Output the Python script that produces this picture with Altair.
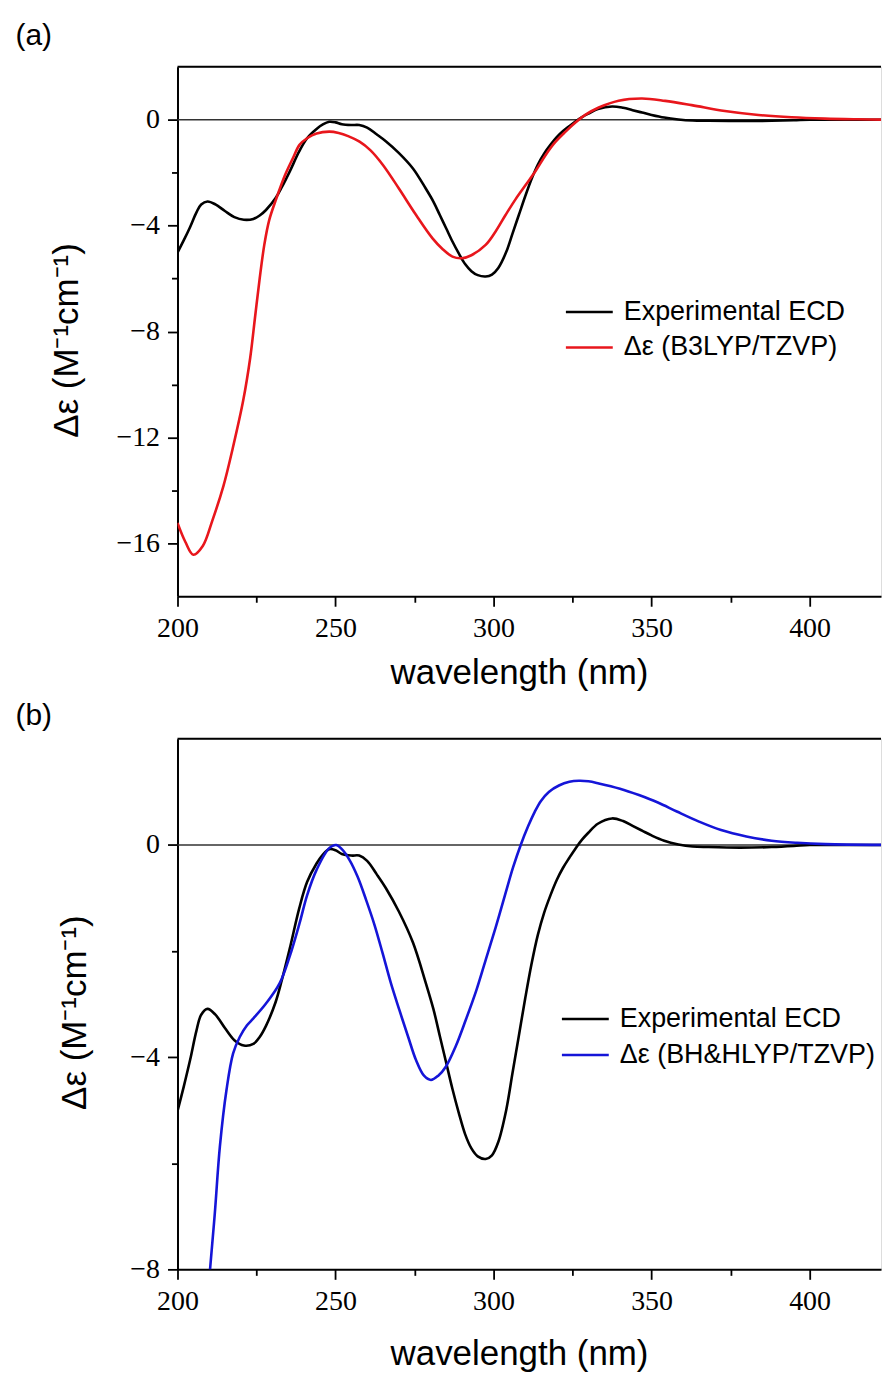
import altair as alt
import pandas as pd

# ---------------- data ----------------
wl_exp = [200, 202, 204, 206, 207.5, 209.5, 212, 215, 218, 221, 224, 226, 228, 231, 233, 235.5,
          238.5, 241, 244, 246, 248, 250, 252, 255, 257.5, 260, 263, 266, 270, 274.5, 278.5,
          281, 283, 285, 287, 289, 291, 293, 295, 297.5, 299.5, 301.5, 304, 306, 308, 310,
          312, 314, 316, 318, 320, 322, 324, 326, 328, 330, 333, 337.5, 341, 344, 347, 350,
          354, 358.5, 363, 368, 378, 388, 395, 400, 410, 425]
de_exp = [-5.02, -4.55, -4.05, -3.5, -3.2, -3.09, -3.2, -3.45, -3.68, -3.78, -3.75, -3.62, -3.41, -2.97, -2.55, -1.96,
          -1.2, -0.7, -0.35, -0.18, -0.08, -0.1, -0.17, -0.2, -0.2, -0.3, -0.55, -0.82, -1.25, -1.84, -2.59,
          -3.1, -3.6, -4.1, -4.6, -5.05, -5.45, -5.72, -5.87, -5.92, -5.85, -5.6, -5.0, -4.3, -3.6, -2.9,
          -2.25, -1.7, -1.28, -0.95, -0.66, -0.43, -0.24, -0.06, 0.1, 0.23, 0.4, 0.5, 0.45, 0.36, 0.27, 0.18,
          0.08, 0.01, -0.03, -0.04, -0.05, -0.04, -0.02, 0.0, 0.0, 0.0]

wl_b3 = [200, 202.5, 205, 208, 211, 214.5, 217.5, 220.8, 223, 224.5, 226, 227.5, 229, 231.3, 234,
         236.5, 238.6, 241, 244, 248, 251, 254, 257.6, 261, 265, 270, 275.5, 280.7, 284, 287,
         290, 293, 297.5, 300.5, 303.8, 307, 310.2, 313.5, 316.5, 319.5, 322.8, 326, 329, 333.3, 339.6,
         347, 354.3, 362.7, 373.2, 383.8, 394.3, 404.8, 415, 425]
de_b3 = [-15.23, -15.95, -16.43, -16.1, -15.15, -13.85, -12.4, -10.6, -9.0, -7.5, -6.0, -4.7, -3.8, -2.97, -2.1,
         -1.46, -0.95, -0.7, -0.52, -0.45, -0.5, -0.62, -0.83, -1.15, -1.71, -2.59, -3.6, -4.48, -4.9, -5.17,
         -5.23, -5.12, -4.73, -4.25, -3.6, -3.0, -2.46, -1.9, -1.33, -0.85, -0.45, -0.1, 0.18, 0.46, 0.72,
         0.8, 0.71, 0.55, 0.33, 0.18, 0.09, 0.04, 0.015, 0.0]

wl_bh = [209.5, 210.3, 211.8, 213.4, 215.5, 217.6, 219.7, 222, 224, 228, 232.3, 235.5, 238.6, 241, 244,
         248, 250.2, 252, 254.4, 257, 259.7, 262.3, 264.9, 267.5, 270.2, 273, 275.5, 278, 280.2, 282.5,
         284.9, 288, 291.2, 294.5, 297.5, 300.7, 303.8, 306.2, 308.6, 311, 313, 315, 317.5, 320.7, 324, 327,
         330, 333.3, 340, 346, 352, 358, 365, 372, 380, 388, 396, 405, 425]
de_bh = [-8.6, -8.0, -6.95, -5.69, -4.62, -3.93, -3.62, -3.4, -3.27, -2.99, -2.61, -2.1, -1.48, -0.95, -0.47,
         -0.06, 0.0, -0.08, -0.28, -0.6, -1.04, -1.5, -2.04, -2.6, -3.11, -3.62, -4.06, -4.35, -4.43, -4.35,
         -4.18, -3.8, -3.3, -2.75, -2.17, -1.55, -0.91, -0.42, 0.0, 0.36, 0.62, 0.83, 1.0, 1.12, 1.19, 1.21,
         1.2, 1.16, 1.06, 0.94, 0.8, 0.63, 0.44, 0.28, 0.16, 0.08, 0.04, 0.015, 0.0]

series_a = ["Experimental ECD", "\u0394\u03b5 (B3LYP/TZVP)"]
series_b = ["Experimental ECD", "\u0394\u03b5 (BH&HLYP/TZVP)"]
colors_a = ["#000000", "#e8161c"]
colors_b = ["#000000", "#1515d8"]

x_domain = [200, 422.6]
x_ticks = [200, 225, 250, 275, 300, 325, 350, 375, 400]
ya_domain = [-18, 2]
ya_ticks = [-16, -14, -12, -10, -8, -6, -4, -2, 0]
yb_domain = [-8, 2]
yb_ticks = [-8, -6, -4, -2, 0]

x_title = "wavelength (nm)"
y_title = "\u0394\u03b5 (M\u207b\u00b9cm\u207b\u00b9)"

SERIF = "Liberation Serif"
SANS = "Liberation Sans"
PLOT_W = 705.5


def frame(series, wls, vals):
    rows = []
    for name, w, v in zip(series, wls, vals):
        rows += [{"series": name, "wl": a, "de": b} for a, b in zip(w, v)]
    return pd.DataFrame(rows)


def panel(df, series, colors, ydom, yticks, height, tag, tag_y, leg_x, leg_y, row_pad,
          ytitle_x, xtitle_y):
    xenc = alt.X(
        "wl:Q",
        scale=alt.Scale(domain=x_domain, nice=False, zero=False),
        axis=alt.Axis(
            values=x_ticks, format="d",
            labelExpr="datum.value % 50 === 0 ? datum.label : ''",
            tickSize={"condition": {"test": "datum.value % 50 === 0", "value": 10}, "value": 6},
            tickWidth=1.8, tickColor="black", domainColor="black", domainWidth=2,
            labelFont=SERIF, labelFontSize=28, labelColor="black", labelPadding=8,
            labelFlush=False, labelOverlap=False, grid=False,
            title=x_title, titleFont=SANS, titleFontSize=35, titleFontWeight="normal",
            titleColor="black", titleX=342.5, titleY=xtitle_y, titleBaseline="middle",
            titleAlign="center",
        ),
    )
    yenc = alt.Y(
        "de:Q",
        scale=alt.Scale(domain=ydom, nice=False, zero=False),
        axis=alt.Axis(
            values=yticks, format="d",
            labelExpr="datum.value % 4 === 0 ? datum.label : ''",
            tickSize={"condition": {"test": "datum.value % 4 === 0", "value": 10}, "value": 6},
            tickWidth=1.8, tickColor="black", domainColor="black", domainWidth=2,
            labelFont=SERIF, labelFontSize=28, labelColor="black", labelPadding=8,
            labelFlush=False, labelOverlap=False, grid=False,
            title=y_title, titleFont=SANS, titleFontSize=35, titleFontWeight="normal",
            titleColor="black", titleX=ytitle_x, titleY=274, titleBaseline="alphabetic",
            titleAlign="center", titleAngle=270,
        ),
    )
    zero = alt.Chart(pd.DataFrame({"de": [0]})).mark_rule(color="#333333", strokeWidth=1.5).encode(y=yenc)
    top = alt.Chart(pd.DataFrame({"de": [ydom[1]]})).mark_rule(color="black", strokeWidth=2).encode(y=yenc)
    lines = alt.Chart(df).mark_line(strokeWidth=2.6, clip=True, interpolate="catmull-rom").encode(
        x=xenc,
        y=yenc,
        color=alt.Color(
            "series:N",
            scale=alt.Scale(domain=series, range=colors),
            sort=series,
            legend=alt.Legend(
                title=None, orient="none", legendX=leg_x, legendY=leg_y,
                symbolType="stroke", symbolSize=2209, symbolStrokeWidth=2.6,
                labelFont=SANS, labelFontSize=27, labelColor="black", labelOffset=9.5,
                labelLimit=400, rowPadding=row_pad, clipHeight=34, padding=0,
                direction="vertical",
            ),
        ),
    )
    label = alt.Chart(pd.DataFrame({"tag": [tag]})).mark_text(
        align="left", baseline="middle", fontSize=30, font=SANS, color="black"
    ).encode(text="tag:N", x=alt.value(-162.5), y=alt.value(tag_y))
    return alt.layer(zero, top, lines, label).properties(width=PLOT_W, height=height)


pa = panel(frame(series_a, [wl_exp, wl_b3], [de_exp, de_b3]), series_a, colors_a,
           ya_domain, ya_ticks, 531, "(a)", -31, 388, 229, 1.5, -100.5, 76)
pb = panel(frame(series_b, [wl_exp, wl_bh], [de_exp, de_bh]), series_b, colors_b,
           yb_domain, yb_ticks, 532, "(b)", -23, 384, 264, 2, -92.5, 84)

chart = (
    alt.vconcat(pa, pb, spacing=143, bounds="flush")
    .resolve_scale(color="independent", y="independent", x="independent")
    .properties(padding={"left": 15, "top": 18, "right": 0, "bottom": 0})
    .configure_view(stroke="transparent")
    .configure(background="white")
)

chart.save("out.html", embed_options={"renderer": "svg", "actions": False})
